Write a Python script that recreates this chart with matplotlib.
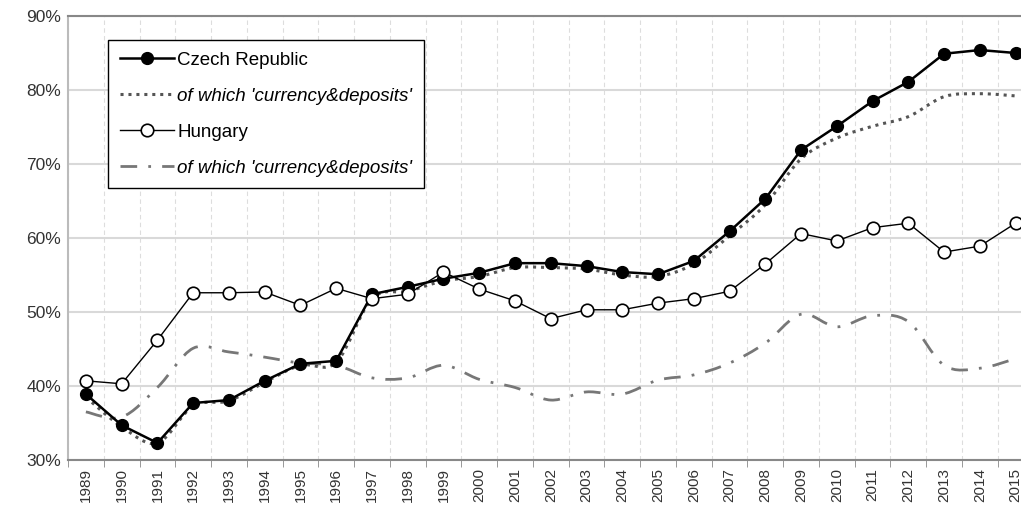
import matplotlib.pyplot as plt
from matplotlib.path import Path
from matplotlib.patches import PathPatch
from matplotlib.ticker import FuncFormatter, FixedLocator

plt.rcParams['font.family'] = ['Liberation Sans', 'DejaVu Sans']

years = list(range(1989, 2016))

czech = [38.9, 34.7, 32.3, 37.7, 38.1, 40.7, 43.0, 43.4, 52.4, 53.4, 54.5, 55.3, 56.6, 56.6,
         56.2, 55.4, 55.1, 56.9, 60.9, 65.3, 71.9, 75.1, 78.5, 81.1, 84.9, 85.4, 85.0]
czech_cd = [38.5, 34.5, 32.3, 37.3, 38.0, 40.5, 42.8, 43.2, 51.8, 52.8, 54.2, 54.8, 56.0, 56.0,
            55.8, 55.0, 54.8, 56.5, 60.3, 64.5, 70.7, 73.5, 75.1, 76.4, 79.1, 79.5, 79.2]
hungary = [40.7, 40.3, 46.2, 52.6, 52.6, 52.7, 50.9, 53.2, 51.8, 52.4, 55.4, 53.1, 51.5, 49.1,
           50.3, 50.3, 51.2, 51.8, 52.8, 56.5, 60.6, 59.6, 61.4, 62.0, 58.1, 58.9, 62.0]
hungary_cd = [36.5, 35.8, 39.8, 45.1, 44.6, 43.9, 43.1, 42.8, 41.1, 41.1, 42.8, 40.9, 39.8, 38.1,
              39.2, 38.9, 40.8, 41.5, 43.1, 45.8, 49.7, 48.0, 49.5, 48.7, 42.8, 42.4, 43.7]

x = list(range(len(years)))


def smooth_path(xs, ys):
    # Excel-like smoothed line: cubic bezier through the points (Catmull-Rom control points)
    verts = [(xs[0], ys[0])]
    codes = [Path.MOVETO]
    n = len(xs)
    for i in range(n - 1):
        x0, y0 = (xs[i - 1], ys[i - 1]) if i > 0 else (xs[i], ys[i])
        x1, y1 = xs[i], ys[i]
        x2, y2 = xs[i + 1], ys[i + 1]
        x3, y3 = (xs[i + 2], ys[i + 2]) if i + 2 < n else (x2, y2)
        c1 = (x1 + (x2 - x0) / 6, y1 + (y2 - y0) / 6)
        c2 = (x2 - (x3 - x1) / 6, y2 - (y3 - y1) / 6)
        verts += [c1, c2, (x2, y2)]
        codes += [Path.CURVE4] * 3
    return Path(verts, codes)


fig = plt.figure(figsize=(10.21, 5.12), dpi=100)
ax = fig.add_axes([68 / 1021, 1 - 460 / 512, 953 / 1021, 444 / 512])

dot_style = dict(color='#555555', lw=2.2, linestyle=(0, (1, 1.6)))
dashdot_style = dict(color='#777777', lw=2.0, linestyle=(0, (6, 4, 1, 4)))

ax.plot(x, czech, color='black', lw=1.8, marker='o', markersize=8.5,
        markerfacecolor='black', markeredgecolor='black', label='Czech Republic', zorder=5)
ax.plot([], [], label="of which 'currency&deposits'", **dot_style)
ax.add_patch(PathPatch(smooth_path(x, czech_cd), facecolor='none', edgecolor=dot_style['color'],
                       lw=dot_style['lw'], linestyle=dot_style['linestyle'], zorder=4))
ax.plot(x, hungary, color='black', lw=1.0, marker='o', markersize=9,
        markerfacecolor='white', markeredgecolor='black', markeredgewidth=1.2,
        label='Hungary', zorder=5)
ax.plot([], [], label="of which 'currency&deposits'", **dashdot_style)
ax.add_patch(PathPatch(smooth_path(x, hungary_cd), facecolor='none',
                       edgecolor=dashdot_style['color'], lw=dashdot_style['lw'],
                       linestyle=dashdot_style['linestyle'], zorder=3))

ax.set_xlim(-0.5, 26.15)
ax.set_ylim(30, 90)
ax.set_yticks(range(30, 91, 10))
ax.yaxis.set_major_formatter(FuncFormatter(lambda v, p: f'{v:.0f}%'))
ax.set_xticks(x)
ax.set_xticklabels([str(y) for y in years], rotation=90)
ax.xaxis.set_minor_locator(FixedLocator([i + 0.5 for i in range(-1, 27)]))

ax.grid(axis='y', color='#d9d9d9', lw=1.5)
ax.grid(axis='x', which='minor', color='#dddddd', lw=0.8, linestyle=(0, (4, 3)))
ax.set_axisbelow(True)

ax.tick_params(axis='x', which='major', length=0, labelsize=11, colors='#333333', pad=6)
ax.tick_params(axis='x', which='minor', length=5, color='#888888')
ax.tick_params(axis='y', length=0, labelsize=12.5, colors='#333333', pad=5)

for side in ['left', 'bottom', 'top']:
    ax.spines[side].set_color('#888888')
    ax.spines[side].set_linewidth(1.5)
ax.spines['left'].set_color('#bbbbbb')
ax.spines['right'].set_visible(False)

leg = ax.legend(loc='upper left', bbox_to_anchor=(0.042, 0.946), fontsize=13.5,
                frameon=True, fancybox=False, edgecolor='black', framealpha=1,
                handlelength=2.9, handletextpad=0.15, labelspacing=1.0,
                borderpad=0.63, borderaxespad=0)
leg.get_frame().set_linewidth(1.0)
texts = leg.get_texts()
texts[1].set_style('italic')
texts[3].set_style('italic')

fig.savefig('out.png', dpi=100)
